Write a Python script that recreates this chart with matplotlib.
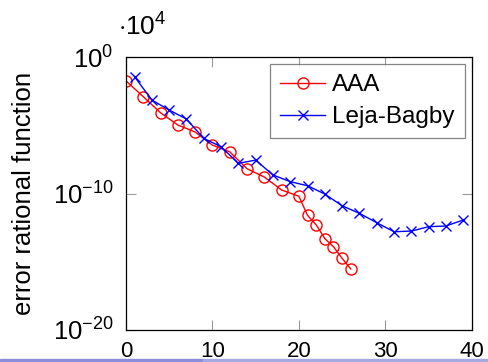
import numpy as np
import matplotlib
matplotlib.use("Agg")
import matplotlib.pyplot as plt
from matplotlib.patches import Rectangle

plt.rcParams["font.family"] = ["Liberation Sans", "DejaVu Sans"]
plt.rcParams["mathtext.fontset"] = "custom"
plt.rcParams["mathtext.rm"] = "Liberation Sans"
plt.rcParams["mathtext.it"] = "Liberation Sans:italic"
plt.rcParams["mathtext.bf"] = "Liberation Sans:bold"

# AAA errors (log10 values)
aaa_n = [0, 2, 4, 6, 8, 10, 12, 14, 16, 18, 20, 21, 22, 23, 24, 25, 26]
aaa_log_err = [-1.74, -2.9, -4.08, -4.98, -5.49, -6.45, -6.94, -8.18, -8.79,
               -9.74, -10.2, -11.6, -12.3, -13.3, -13.9, -14.75, -15.53]

# Leja-Bagby errors
leja_n = [1, 3, 5, 7, 9, 11, 13, 15, 17, 19, 21, 23, 25, 27, 29, 31, 33, 35, 37, 39]
leja_log_err = [-1.44, -3.15, -3.88, -4.54, -5.96, -6.57, -7.79, -7.55, -8.64,
                -9.13, -9.43, -10.04, -10.9, -11.45, -12.14, -12.8, -12.75,
                -12.43, -12.38, -11.94]

fig = plt.figure(figsize=(4.88, 3.62), dpi=100)
ax = fig.add_axes([0.258, 0.0884, 0.709, 0.754])

ax.plot(aaa_n, 10.0 ** np.array(aaa_log_err), color="red", lw=1.0,
        marker="o", ms=8, mfc="none", mew=1.0, label="AAA")
ax.plot(leja_n, 10.0 ** np.array(leja_log_err), color="blue", lw=1.0,
        marker="x", ms=7, mew=1.0, label="Leja-Bagby")

ax.set_yscale("log")
ax.set_xlim(0, 40)
ax.set_ylim(1e-20, 1e0)
ax.set_xticks([0, 10, 20, 30, 40])
ax.set_yticks([1e-20, 1e-10, 1e0])
ax.set_yticklabels([r"$10^{-20}$", r"$10^{-10}$", r"$10^{0}$"])
ax.yaxis.set_minor_locator(matplotlib.ticker.NullLocator())
ax.tick_params(direction="in", length=7, width=0.8, color="#999999",
               top=True, right=True)
ax.tick_params(axis="x", labelsize=16, pad=8)
ax.tick_params(axis="y", labelsize=18.5, pad=9)
for s in ax.spines.values():
    s.set_linewidth(0.9)

ax.set_ylabel("error rational function", fontsize=18.5, labelpad=12)

leg = ax.legend(loc="upper right", fontsize=17.5, frameon=True, fancybox=False,
                edgecolor="#666666", borderpad=0.4, handlelength=1.85,
                labelspacing=0.42, handletextpad=0.3, borderaxespad=0.3)
leg.get_frame().set_linewidth(0.9)

fig.text(0.242, 0.925, r"$\cdot 10^{4}$", fontsize=19, va="center", ha="left")

# beamer navigation bar at the bottom
fig.patches.append(Rectangle((0, 0), 203 / 488, 3 / 362, transform=fig.transFigure,
                             color="#8c8cd8", zorder=0))
fig.patches.append(Rectangle((203 / 488, 0), 1 - 203 / 488, 3 / 362,
                             transform=fig.transFigure, color="#a9a9e2", zorder=0))

fig.savefig("out.png", dpi=100)
